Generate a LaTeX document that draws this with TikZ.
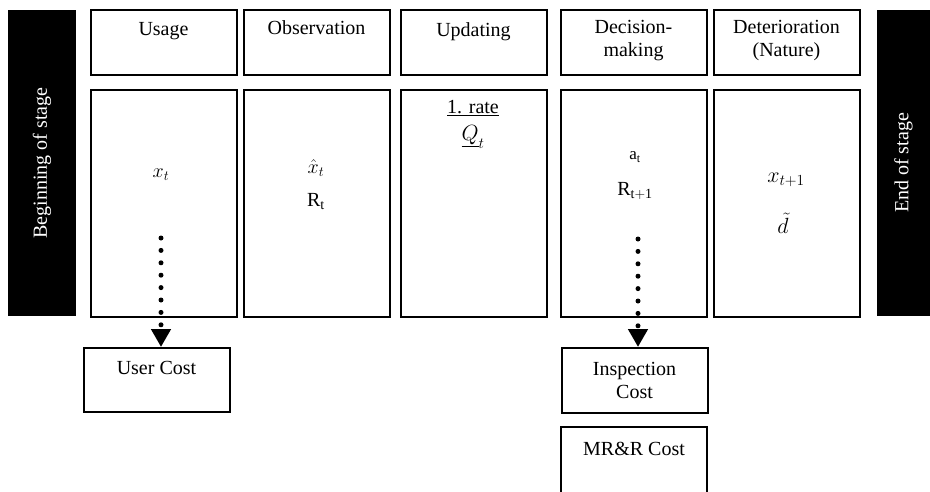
\RequirePackage{fix-cm}
\documentclass[tikz,border=0pt]{standalone}
\usepackage{fontspec}
\setmainfont{Liberation Serif}
\usetikzlibrary{
	arrows.meta,
	positioning
}
\tikzset{
	stagebar/.style={fill=black, text=white, minimum width=#1, minimum height=306pt, inner sep=0pt},
	stepbox/.style={draw, line width=2pt, minimum width=146pt, minimum height=#1, inner sep=0pt},
	steptxt/.style={align=center, inner sep=0pt, font=\fontsize{20}{23}\selectfont},
	costarrow/.style={line width=5pt, line cap=round, dash pattern=on 0pt off 12.4pt,
		-{Triangle[width=19pt,length=18pt,line cap=butt]}, shorten >=0pt}
}

\begin{document}
\begin{tikzpicture}[x=1pt, y=-1pt, font=\fontsize{20}{23}\selectfont]
		\useasboundingbox (0,0) rectangle (930,491);
		% stage limits
		\node[stagebar=68pt] (begin) at (42,163) {};
		\node[steptxt, text=white, rotate=90] (begintxt) at (begin.center) {Beginning of stage};
		\node[stagebar=53pt] (end) at (903.5,163) {};
		\node[steptxt, text=white, rotate=90] (endtxt) at (end.center) {End of stage};
		% headers
		\node[stepbox=65pt] (usage) at (163.5,42.5) {};
		\node[stepbox=65pt] (obs) at (316.5,42.5) {};
		\node[stepbox=65pt] (upd) at (473.5,42.5) {};
		\node[stepbox=65pt] (dec) at (633.5,42.5) {};
		\node[stepbox=65pt] (det) at (786.5,42.5) {};
		\node[steptxt, anchor=north] (usagetxt) at (163.5,22) {Usage};
		\node[steptxt, anchor=north] (obstxt) at (316.5,20) {Observation};
		\node[steptxt, anchor=north] (updtxt) at (473.5,22) {Updating};
		\node[steptxt, anchor=north] (dectxt) at (633.5,20) {Decision-\\making};
		\node[steptxt, anchor=north] (dettxt) at (786.5,20) {Deterioration\\(Nature)};
		% bodies
		\node[stepbox=227pt] (usagebody) at (163.5,203.5) {};
		\node[stepbox=227pt] (obsbody) at (316.5,203.5) {};
		\node[stepbox=227pt] (updbody) at (473.5,203.5) {};
		\node[stepbox=227pt] (decbody) at (633.5,203.5) {};
		\node[stepbox=227pt] (detbody) at (786.5,203.5) {};
		\node[steptxt] (xt) at (161,175) {$x_t$};
		\node[steptxt] (xhat) at (316,168) {$\hat{x}_t$};
		\node[steptxt] (rt) at (316,202) {R$_\mathrm{t}$};
		\node[steptxt] (rate) at (473,108) {\underline{1. rate}};
		\node[steptxt, font=\fontsize{22}{25}\selectfont] (qt) at (473,137) {$\underline{Q}_t$};
		\node[steptxt, font=\fontsize{17}{20}\selectfont] (at) at (635,157) {a$_\mathrm{t}$};
		\node[steptxt] (rt1) at (635,191) {R$_\mathrm{t+1}$};
		\node[steptxt, font=\fontsize{22}{25}\selectfont] (xt1) at (786,180) {$x_{t+1}$};
		\node[steptxt, font=\fontsize{22}{25}\selectfont] (dtil) at (783,223) {$\tilde{d}$};
		% costs
		\node[stepbox=64pt] (usercost) at (156.5,380) {};
		\node[steptxt, anchor=north] (usercosttxt) at (156.5,361) {User Cost};
		\node[stepbox=65pt, align=center, font=\fontsize{20}{23}\selectfont] (inspcost) at (634.5,380.5) {Inspection\\Cost};
		\node[stepbox=90pt, line width=1.2pt] (mrrcost) at (634,472) {};
		\node[steptxt, anchor=north] (mrrtxt) at (634,442) {MR\&R Cost};
		% cost arrows
		\coordinate (ustart) at (161,238);
		\coordinate (dstart) at (638,239);
		\draw[costarrow] (ustart) -- (ustart |- usercost.north);
		\draw[costarrow] (dstart) -- (dstart |- inspcost.north);
	\end{tikzpicture}
\end{document}
